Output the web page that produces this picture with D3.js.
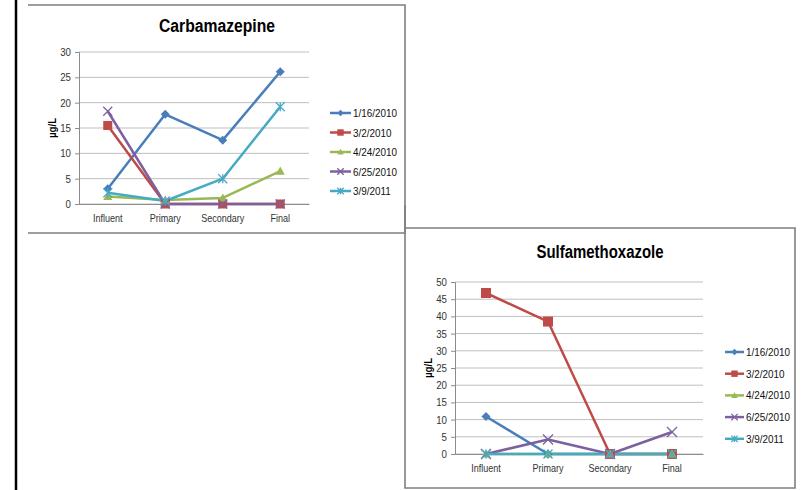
<!DOCTYPE html>
<html>
<head>
<meta charset="utf-8">
<script src="https://cdn.jsdelivr.net/npm/d3@7"></script>
<style>
  html, body { margin: 0; padding: 0; background: #fff; }
  svg { display: block; }
  text { font-family: "Liberation Sans", Arial, sans-serif; }
</style>
</head>
<body>
<svg id="page" width="803" height="490"></svg>
<script>
// Treatment stages along the x axis
const stages = ["Influent", "Primary", "Secondary", "Final"];
// Sampling dates (one series each)
const sampleDates = ["1/16/2010", "3/2/2010", "4/24/2010", "6/25/2010", "3/9/2011"];

// Carbamazepine concentrations (µg/L), one array per sampling date
const carb_0116_2010 = [3.0, 17.7, 12.6, 26.1];
const carb_0302_2010 = [15.5, 0, 0, 0];
const carb_0424_2010 = [1.5, 0.8, 1.2, 6.5];
const carb_0625_2010 = [18.3, 0, 0, 0];
const carb_0309_2011 = [2.2, 0.6, 5.0, 19.2];
const carbTicks = [0, 5, 10, 15, 20, 25, 30];

// Sulfamethoxazole concentrations (µg/L)
const sulf_0116_2010 = [10.9, 0, 0, 0];
const sulf_0302_2010 = [46.8, 38.5, 0, 0];
const sulf_0424_2010 = [0, 0, 0, 0];
const sulf_0625_2010 = [0, 4.2, 0, 6.4];
const sulf_0309_2011 = [0, 0, 0, 0];
const sulfTicks = [0, 5, 10, 15, 20, 25, 30, 35, 40, 45, 50];

const seriesColors = ["#4A7EBB", "#BE4B48", "#98B954", "#7D60A0", "#46AAC5"];
const markerKinds = ["diamond", "square", "triangle", "cross", "star"];

const svg = d3.select("#page");

// narrow the glyphs horizontally so the sans face reads like a condensed one
function condense(sel, factor) {
  sel.each(function () {
    const w = this.getComputedTextLength();
    d3.select(this).attr("textLength", w * factor).attr("lengthAdjust", "spacingAndGlyphs");
  });
}

// Page-level frame line
svg.append("line").attr("x1", 16).attr("x2", 16).attr("y1", 0).attr("y2", 490)
  .attr("stroke", "#000").attr("stroke-width", 2.5);

function drawMarker(g, kind, x, y, color, s) {
  if (kind === "diamond") {
    g.append("path").attr("d", `M${x},${y - s}L${x + s},${y}L${x},${y + s}L${x - s},${y}Z`).attr("fill", color);
  } else if (kind === "square") {
    g.append("rect").attr("x", x - s).attr("y", y - s).attr("width", 2 * s).attr("height", 2 * s).attr("fill", color);
  } else if (kind === "triangle") {
    g.append("path").attr("d", `M${x},${y - s}L${x + s},${y + s * 0.8}L${x - s},${y + s * 0.8}Z`).attr("fill", color);
  } else if (kind === "cross") {
    g.append("path").attr("d", `M${x - s},${y - s}L${x + s},${y + s}M${x - s},${y + s}L${x + s},${y - s}`)
      .attr("stroke", color).attr("stroke-width", 1.3).attr("fill", "none");
  } else if (kind === "star") {
    g.append("path").attr("d", `M${x - s},${y - s}L${x + s},${y + s}M${x - s},${y + s}L${x + s},${y - s}M${x},${y - s}L${x},${y + s}`)
      .attr("stroke", color).attr("stroke-width", 1.3).attr("fill", "none");
  }
}

function drawChart(cfg) {
  const g = svg.append("g");
  // chart frame
  g.append("path")
    .attr("d", cfg.framePath)
    .attr("fill", "none").attr("stroke", "#7f7f7f").attr("stroke-width", 1.6);

  g.append("text").attr("x", cfg.titleX).attr("y", cfg.titleY)
    .attr("text-anchor", "middle").attr("font-weight", "bold").attr("font-size", 18)
    .attr("fill", "#000").attr("textLength", cfg.titleWidth).attr("lengthAdjust", "spacingAndGlyphs")
    .text(cfg.title);

  const x = d3.scaleBand().domain(stages).range([cfg.left, cfg.right]);
  const y = d3.scaleLinear().domain([0, d3.max(cfg.ticks)]).range([cfg.bottom, cfg.top]);

  // horizontal gridlines
  g.append("g").selectAll("line").data(cfg.ticks).join("line")
    .attr("x1", cfg.left).attr("x2", cfg.right)
    .attr("y1", d => y(d)).attr("y2", d => y(d))
    .attr("stroke", "#bfbfbf").attr("stroke-width", 1);

  // value axis
  const yAxis = d3.axisLeft(y).tickValues(cfg.ticks).tickSize(4).tickPadding(4);
  const ya = g.append("g").attr("transform", `translate(${cfg.left},0)`).call(yAxis);
  ya.select(".domain").attr("stroke", "#8c8c8c");
  ya.selectAll(".tick line").attr("stroke", "#8c8c8c");
  ya.selectAll(".tick text").attr("font-size", 11).attr("fill", "#333")
    .style("font-family", "'Liberation Sans', Arial, sans-serif");
  condense(ya.selectAll(".tick text"), 0.88);

  // category axis
  const xAxis = d3.axisBottom(x).tickSize(0).tickPadding(10);
  const xa = g.append("g").attr("transform", `translate(0,${cfg.bottom})`).call(xAxis);
  xa.select(".domain").attr("stroke", "#8c8c8c");
  xa.selectAll(".tick text").attr("font-size", 11).attr("fill", "#333")
    .style("font-family", "'Liberation Sans', Arial, sans-serif");
  condense(xa.selectAll(".tick text"), 0.82);

  // axis title
  const yt = g.append("text")
    .attr("transform", `translate(${cfg.yLabelX},${(cfg.top + cfg.bottom) / 2}) rotate(-90)`)
    .attr("text-anchor", "middle").attr("font-weight", "bold").attr("font-size", 11)
    .attr("fill", "#000").text("µg/L");
  condense(yt, 0.88);

  const line = d3.line().x((d, i) => x(stages[i]) + x.bandwidth() / 2).y(d => y(d));

  cfg.series.forEach((vals, k) => {
    const color = seriesColors[k];
    g.append("path").datum(vals).attr("d", line)
      .attr("fill", "none").attr("stroke", color).attr("stroke-width", 2.5)
      .attr("stroke-linejoin", "round");
  });
  cfg.series.forEach((vals, k) => {
    const color = seriesColors[k];
    vals.forEach((v, i) => {
      drawMarker(g, markerKinds[k], x(stages[i]) + x.bandwidth() / 2, y(v), color, cfg.markerSize[k]);
    });
  });

  // legend
  const lg = g.append("g");
  sampleDates.forEach((name, k) => {
    const ly = cfg.legendY + k * cfg.legendStep;
    lg.append("line").attr("x1", cfg.legendX).attr("x2", cfg.legendX + cfg.legendLen)
      .attr("y1", ly).attr("y2", ly).attr("stroke", seriesColors[k]).attr("stroke-width", 2.5);
    drawMarker(lg, markerKinds[k], cfg.legendX + cfg.legendLen / 2, ly, seriesColors[k], 3.2);
    const t = lg.append("text").attr("x", cfg.legendX + cfg.legendLen + 2).attr("y", ly + 4)
      .attr("font-size", 11.5).attr("fill", "#111").text(name);
    condense(t, 0.86);
  });
}

drawChart({
  title: "Carbamazepine", titleWidth: 116,
  framePath: "M28,5H405V233H28",
  titleX: 217, titleY: 32,
  left: 79, right: 309, top: 52, bottom: 204,
  ticks: carbTicks,
  yLabelX: 56,
  series: [carb_0116_2010, carb_0302_2010, carb_0424_2010, carb_0625_2010, carb_0309_2011],
  markerSize: [4.5, 4.5, 4.5, 4.5, 4.5],
  legendX: 330, legendLen: 21, legendY: 113, legendStep: 19.5
});

drawChart({
  title: "Sulfamethoxazole", titleWidth: 127,
  framePath: "M405,205V488H795V228H405",
  titleX: 600, titleY: 258,
  left: 455, right: 703, top: 282, bottom: 454,
  ticks: sulfTicks,
  yLabelX: 432,
  series: [sulf_0116_2010, sulf_0302_2010, sulf_0424_2010, sulf_0625_2010, sulf_0309_2011],
  markerSize: [4.5, 5, 4.5, 5, 4.5],
  legendX: 725, legendLen: 19, legendY: 352, legendStep: 21.7
});
</script>
</body>
</html>
